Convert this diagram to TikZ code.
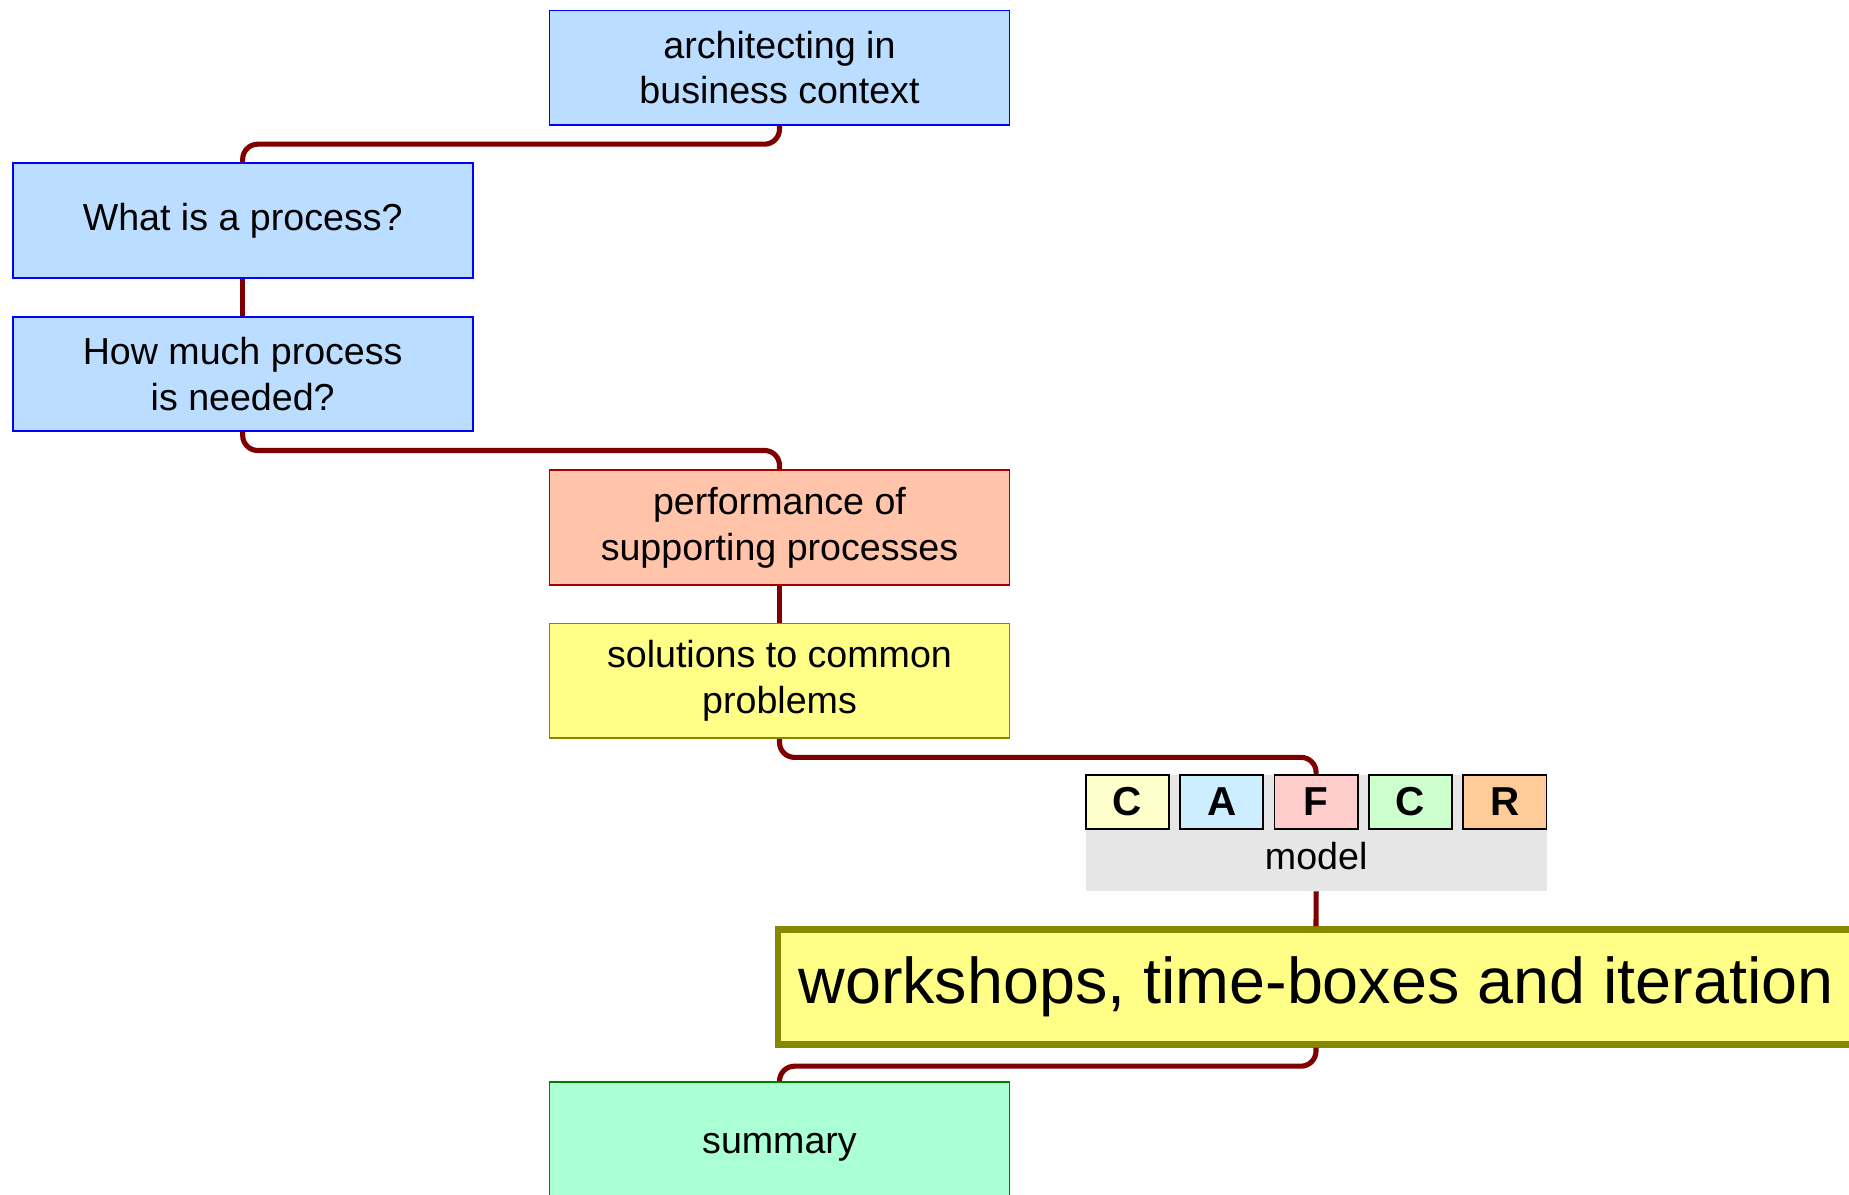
\documentclass[tikz,border=0pt]{standalone}
\usepackage{fontspec}
\setmainfont{Liberation Sans}
\definecolor{linkred}{HTML}{800000}
\definecolor{topicblue}{HTML}{BBDDFF}
\definecolor{perffill}{HTML}{FFC4AA}
\definecolor{solfill}{HTML}{FFFF88}
\definecolor{olive}{HTML}{888800}
\definecolor{summfill}{HTML}{AAFFD4}
\definecolor{cfill}{HTML}{FFFFCC}
\definecolor{afill}{HTML}{CCEEFF}
\definecolor{ffill}{HTML}{FFCCCC}
\definecolor{c2fill}{HTML}{CCFFCC}
\definecolor{rfill}{HTML}{FFCC99}
\definecolor{modelgray}{HTML}{E6E6E6}

\begin{document}
\begin{tikzpicture}
        [topic/.style={draw, rectangle, align=center, minimum width=4.6cm, minimum height=1.144cm, line width=0.5pt, font=\fontsize{10.7}{13}\selectfont},
         view/.style={draw=black, line width=0.5pt, minimum width=0.833cm, minimum height=0.543cm, inner sep=0pt, font=\fontsize{11.5}{13}\selectfont\bfseries},
         link/.style={draw=linkred, line width=1.45pt, rounded corners=0.15cm}]
      \useasboundingbox (0,0) rectangle (18.49,-11.94);

      \node[topic, draw=blue, fill=topicblue] (arch) at (7.795,-0.676) {architecting in\\business context};
      \node[topic, draw=blue, fill=topicblue] (what) at (2.427,-2.205) {What is a process?};
      \node[topic, draw=blue, fill=topicblue] (how) at (2.427,-3.739) {How much process\\is needed?};
      \node[topic, draw=red!65!black, fill=perffill] (perf) at (7.795,-5.275) {performance of\\supporting processes};
      \node[topic, draw=olive, fill=solfill] (sol) at (7.795,-6.808) {solutions to common\\problems};

      % CAFCR model
      \node[fill=modelgray, minimum width=4.61cm, minimum height=1.157cm, inner sep=0pt] (model) at (13.162,-8.329) {};
      \node[anchor=base, font=\fontsize{10.7}{13}\selectfont] (modeltxt) at (13.162,-8.69) {model};
      \foreach \i/\l/\c in {1/C/cfill, 2/A/afill, 3/F/ffill, 4/C/c2fill, 5/R/rfill}
        \node[view, fill=\c] (k\i) at ({11.273+0.944*(\i-1)},-8.02) {\l};

      \node[draw=olive, fill=solfill, line width=1.8pt, minimum width=10.76cm, minimum height=1.15cm, font=\fontsize{18.4}{22}\selectfont] (ws) at (13.16,-9.87) {workshops, time-boxes and iteration};
      \node[topic, draw=green!50!black, fill=summfill, minimum height=1.3cm] (summ) at (7.795,-11.47) {summary};

      \foreach \from/\to in {arch/what, how/perf, sol/k3, ws/summ}
        \draw[link] (\from.south) -- ++(0,-0.185) -| (\to.north);
      \foreach \from/\to in {what/how, perf/sol, model/ws}
        \draw[link] (\from.south) -- (\to.north);
    \end{tikzpicture}
\end{document}
